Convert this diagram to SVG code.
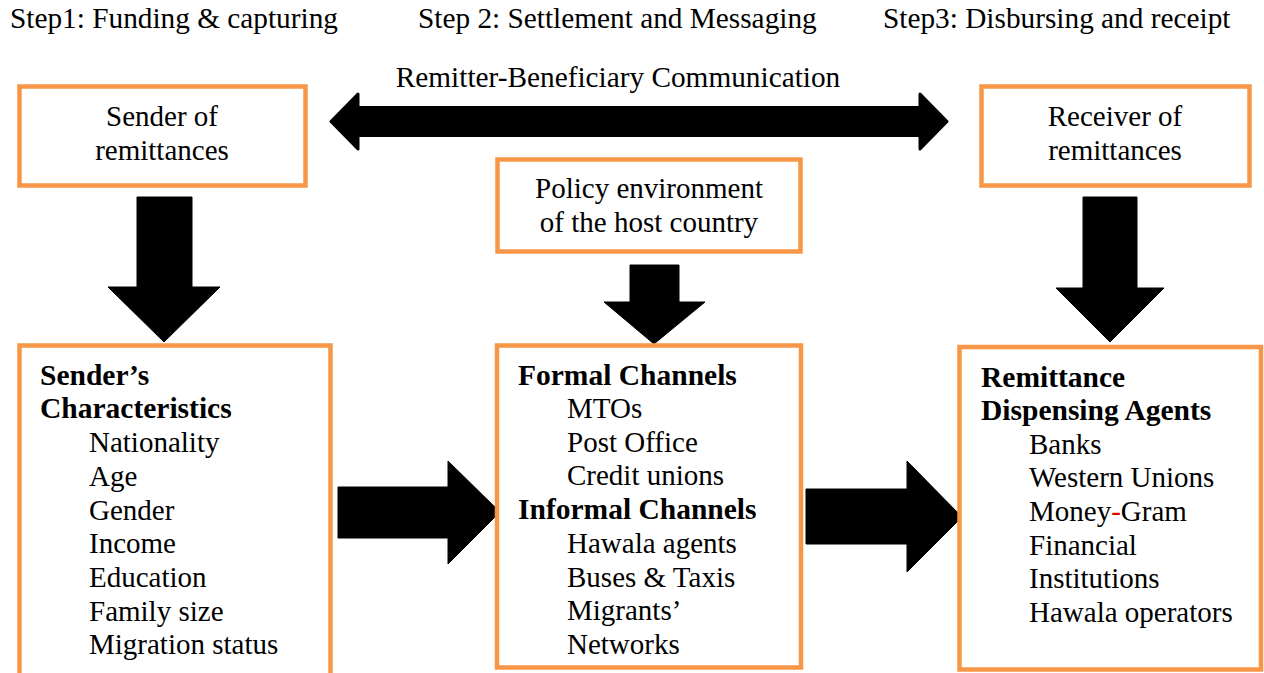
<svg xmlns="http://www.w3.org/2000/svg" width="1264" height="673" viewBox="0 0 1264 673">
  <style>
    text { font-family: "Liberation Serif", "Times New Roman", serif; fill: #000; }
    .step { font-size: 29.3px; }
    .t { font-size: 29px; }
    .c { text-anchor: middle; }
    .b { font-weight: bold; font-size: 29.5px; }
    .box { fill: #fff; stroke: #F79646; stroke-width: 4.5; }
    .arrow { fill: #000; stroke: #000; stroke-width: 1; }
  </style>

  <!-- step headings -->
  <g id="steps">
    <text class="step" x="10" y="28">Step1: Funding &amp; capturing</text>
    <text class="step" x="418" y="28">Step 2: Settlement and Messaging</text>
    <text class="step" x="883" y="28">Step3: Disbursing and receipt</text>
  </g>

  <!-- connectors -->
  <g id="connectors">
    <path d="M331,121.5 L358,94 L358,107.5 L920,107.5 L920,94 L947,121.5 L920,149 L920,135.5 L358,135.5 L358,149 Z" fill="#000" stroke="#000" stroke-width="3" stroke-linejoin="round"/>
    <text class="step c" x="618" y="87">Remitter-Beneficiary Communication</text>
    <path class="arrow" d="M137,197 L192,197 L192,287 L220,287 L164,342 L108,287 L137,287 Z"/>
    <path class="arrow" d="M630,265 L679,265 L679,302 L705,302 L654,344 L604,302 L630,302 Z"/>
    <path class="arrow" d="M1083,197 L1137,197 L1137,288 L1164,288 L1110,342 L1056,288 L1083,288 Z"/>
    <path class="arrow" d="M338,487 L448,487 L448,461 L500,512 L448,564 L448,538 L338,538 Z"/>
    <path class="arrow" d="M806,489 L907,489 L907,461 L962,517 L907,572 L907,544 L806,544 Z"/>
  </g>

  <g id="sender">
    <rect class="box" x="19.5" y="86.5" width="286" height="99"/>
    <text class="t c" x="162" y="126">Sender of</text>
    <text class="t c" x="162" y="160">remittances</text>
  </g>

  <g id="receiver">
    <rect class="box" x="981.5" y="86.5" width="268" height="99"/>
    <text class="t c" x="1115" y="126">Receiver of</text>
    <text class="t c" x="1115" y="160">remittances</text>
  </g>

  <g id="policy">
    <rect class="box" x="497.5" y="159.5" width="303" height="92"/>
    <text class="t c" x="649" y="198">Policy environment</text>
    <text class="t c" x="649" y="232">of the host country</text>
  </g>

  <g id="sender-characteristics">
    <rect class="box" x="19.5" y="345.5" width="311" height="340"/>
    <text class="t b" x="40" y="385">Sender’s</text>
    <text class="t b" x="40" y="418">Characteristics</text>
    <text class="t" x="89" y="452">Nationality</text>
    <text class="t" x="89" y="486">Age</text>
    <text class="t" x="89" y="520">Gender</text>
    <text class="t" x="89" y="553">Income</text>
    <text class="t" x="89" y="587">Education</text>
    <text class="t" x="89" y="621">Family size</text>
    <text class="t" x="89" y="654">Migration status</text>
  </g>

  <g id="channels">
    <rect class="box" x="497" y="345.5" width="304" height="322"/>
    <text class="t b" x="518" y="385">Formal Channels</text>
    <text class="t" x="567" y="418">MTOs</text>
    <text class="t" x="567" y="452">Post Office</text>
    <text class="t" x="567" y="485">Credit unions</text>
    <text class="t b" x="518" y="519">Informal Channels</text>
    <text class="t" x="567" y="553">Hawala agents</text>
    <text class="t" x="567" y="587">Buses &amp; Taxis</text>
    <text class="t" x="567" y="620">Migrants’</text>
    <text class="t" x="567" y="654">Networks</text>
  </g>

  <g id="dispensing-agents">
    <rect class="box" x="959.5" y="347" width="301.5" height="322.5"/>
    <text class="t b" x="981" y="387">Remittance</text>
    <text class="t b" x="981" y="420">Dispensing Agents</text>
    <text class="t" x="1029" y="454">Banks</text>
    <text class="t" x="1029" y="487">Western Unions</text>
    <text class="t" x="1029" y="521">Money<tspan fill="#E00000">-</tspan>Gram</text>
    <text class="t" x="1029" y="555">Financial</text>
    <text class="t" x="1029" y="588">Institutions</text>
    <text class="t" x="1029" y="622">Hawala operators</text>
  </g>
</svg>
